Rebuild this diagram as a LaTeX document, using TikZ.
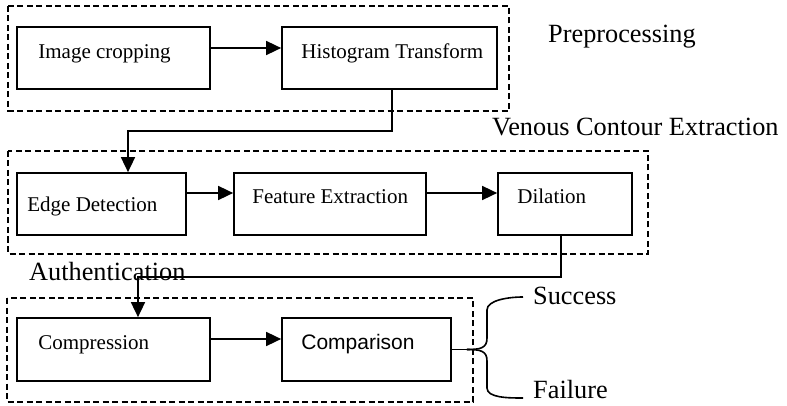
\documentclass[tikz,border=0pt]{standalone}
\usepackage{fontspec}
\setmainfont{Liberation Serif}
\newfontfamily\arialfont{Liberation Sans}
\usetikzlibrary{arrows.meta}

\tikzset{
  stage/.style={draw,line width=1.7pt,inner sep=0pt,minimum height=62pt},
  boxtext/.style={font=\fontsize{21}{25}\selectfont,inner sep=0pt,anchor=base west},
  grouptext/.style={font=\fontsize{26.3}{30}\selectfont,inner sep=0pt,anchor=base west},
  group/.style={line width=1.4pt,dash pattern=on 6pt off 3.5pt},
  flow/.style={line width=1.6pt,-{Triangle[length=15pt,width=14pt]}},
  branch/.style={line width=1.6pt}
}

\begin{document}
\begin{tikzpicture}[x=1pt,y=-1pt,line join=miter]

% fixed canvas, 787 x 406
\path[use as bounding box] (0,0) rectangle (787,406);

% group frames
\draw[group] (8,6) rectangle (509,111);
\draw[group] (8,151) rectangle (648,254);
\draw[group] (7,298) rectangle (473,402);

% group titles
\node[grouptext] (tpre) at (548,42.7) {Preprocessing};
\node[grouptext] (tvce) at (492,136) {Venous Contour Extraction};
\node[grouptext] (tauth) at (29,280) {Authentication};

% preprocessing stages
\node[stage,minimum width=193pt,
  label={[boxtext,xshift=22pt,yshift=-1pt]west:Image cropping}] (crop) at (113.5,58) {};
\node[stage,minimum width=215pt,
  label={[boxtext,xshift=20pt,yshift=-1pt]west:Histogram Transform}] (hist) at (389.5,58) {};

% contour extraction stages
\node[stage,minimum width=169pt,
  label={[boxtext,xshift=11pt,yshift=-7.7pt]west:Edge Detection}] (edge) at (101.5,204) {};
\node[stage,minimum width=192pt,
  label={[boxtext,xshift=19pt,yshift=0.7pt]west:Feature Extraction}] (feat) at (330,204) {};
\node[stage,minimum width=134pt,
  label={[boxtext,xshift=20pt]west:Dilation}] (dil) at (565,204) {};

% authentication stages
\node[stage,minimum width=193pt,minimum height=63pt,
  label={[boxtext,xshift=22pt]west:Compression}] (compr) at (113.5,349.5) {};
\node[stage,minimum width=169pt,minimum height=63pt,
  label={[boxtext,font=\arialfont\fontsize{21}{25}\selectfont,xshift=20pt]west:Comparison}] (compa) at (366.5,349.5) {};

% outcomes
\node[grouptext] (succ) at (533,304) {Success};
\node[grouptext] (fail) at (533,398) {Failure};

% arrows inside groups
\draw[flow] ([yshift=10pt]crop.east) -- ([yshift=10pt]hist.west);
\draw[flow] ([yshift=11pt]edge.east) -- ([yshift=11pt]feat.west);
\draw[flow] ([yshift=11pt]feat.east) -- ([yshift=11pt]dil.west);
\draw[flow] ([yshift=10.5pt]compr.east) -- ([yshift=10.5pt]compa.west);

% arrows between groups
\draw[flow] ([xshift=2.5pt]hist.south) -- ++(0,41) -| ([xshift=26.5pt]edge.north);
\draw[flow] ([xshift=-4pt]dil.south) -- ++(0,41) -| ([xshift=24.5pt]compr.north);

% decision fork
\coordinate (fork) at ([xshift=15pt]compa.east);
\draw[branch] (compa.east) -- (fork);
\draw[branch] (fork) .. controls +(14,0) and +(0,10) .. (487,338) -- (487,310)
  .. controls +(0,-10) and +(-14,0) .. ([xshift=-10pt,yshift=7pt]succ.base west);
\draw[branch] (fork) .. controls +(14,0) and +(0,-10) .. (487,361) -- (487,388)
  .. controls +(0,10) and +(-14,0) .. ([xshift=-10pt]fail.base west);

\end{tikzpicture}
\end{document}
